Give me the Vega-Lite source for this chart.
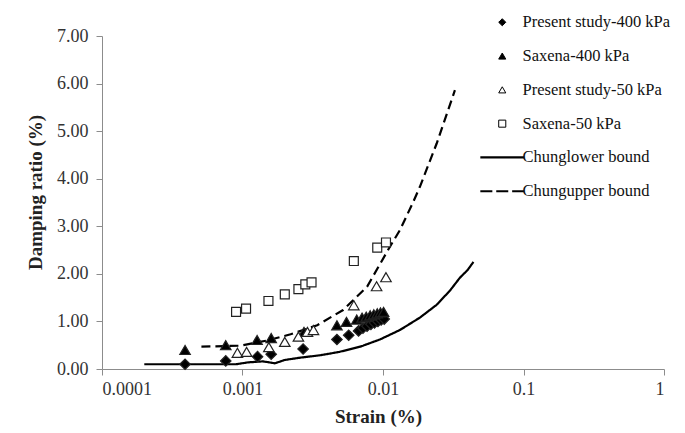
{
  "$schema": "https://vega.github.io/schema/vega-lite/v6.json",
  "width": 562,
  "height": 333,
  "autosize": "none",
  "padding": {"left": 102, "top": 36, "right": 21, "bottom": 64},
  "background": "white",
  "config": {
    "view": {"stroke": null},
    "font": "Liberation Serif",
    "axis": {
      "grid": false,
      "domainColor": "#8c8c8c",
      "tickColor": "#8c8c8c",
      "tickSize": 6,
      "labelFont": "Liberation Serif",
      "labelFontSize": 18,
      "labelColor": "#333333",
      "titleFont": "Liberation Serif",
      "titleFontSize": 19,
      "titleFontWeight": "bold",
      "titleColor": "#222222"
    },
    "legend": {
      "orient": "none",
      "legendX": 392,
      "legendY": -22,
      "symbolSize": 50,
      "symbolStrokeColor": "black",
      "symbolOpacity": 1,
      "labelFont": "Liberation Serif",
      "labelFontSize": 16.5,
      "labelColor": "#111111",
      "labelOffset": 12,
      "rowPadding": 16.8,
      "labelLimit": 300
    }
  },
  "data": {
    "values": [
      {"series": "Present study-400 kPa", "strain": 0.00039, "damping": 0.10},
      {"series": "Present study-400 kPa", "strain": 0.00076, "damping": 0.17},
      {"series": "Present study-400 kPa", "strain": 0.00128, "damping": 0.26},
      {"series": "Present study-400 kPa", "strain": 0.0016, "damping": 0.31},
      {"series": "Present study-400 kPa", "strain": 0.0027, "damping": 0.42},
      {"series": "Present study-400 kPa", "strain": 0.0047, "damping": 0.62},
      {"series": "Present study-400 kPa", "strain": 0.0057, "damping": 0.71},
      {"series": "Present study-400 kPa", "strain": 0.0067, "damping": 0.80},
      {"series": "Present study-400 kPa", "strain": 0.0072, "damping": 0.86},
      {"series": "Present study-400 kPa", "strain": 0.0077, "damping": 0.90},
      {"series": "Present study-400 kPa", "strain": 0.0082, "damping": 0.94},
      {"series": "Present study-400 kPa", "strain": 0.0087, "damping": 0.97},
      {"series": "Present study-400 kPa", "strain": 0.0092, "damping": 1.00},
      {"series": "Present study-400 kPa", "strain": 0.0097, "damping": 1.03},
      {"series": "Present study-400 kPa", "strain": 0.0102, "damping": 1.05},
      {"series": "Saxena-400 kPa", "strain": 0.00039, "damping": 0.40},
      {"series": "Saxena-400 kPa", "strain": 0.00076, "damping": 0.50},
      {"series": "Saxena-400 kPa", "strain": 0.00127, "damping": 0.61},
      {"series": "Saxena-400 kPa", "strain": 0.0016, "damping": 0.65},
      {"series": "Saxena-400 kPa", "strain": 0.00274, "damping": 0.78},
      {"series": "Saxena-400 kPa", "strain": 0.0047, "damping": 0.92},
      {"series": "Saxena-400 kPa", "strain": 0.0055, "damping": 0.99},
      {"series": "Saxena-400 kPa", "strain": 0.0065, "damping": 1.04},
      {"series": "Saxena-400 kPa", "strain": 0.0071, "damping": 1.08},
      {"series": "Saxena-400 kPa", "strain": 0.0076, "damping": 1.10},
      {"series": "Saxena-400 kPa", "strain": 0.0081, "damping": 1.13},
      {"series": "Saxena-400 kPa", "strain": 0.0086, "damping": 1.15},
      {"series": "Saxena-400 kPa", "strain": 0.0091, "damping": 1.17},
      {"series": "Saxena-400 kPa", "strain": 0.0096, "damping": 1.19},
      {"series": "Saxena-400 kPa", "strain": 0.0101, "damping": 1.20},
      {"series": "Present study-50 kPa", "strain": 0.00092, "damping": 0.34},
      {"series": "Present study-50 kPa", "strain": 0.00107, "damping": 0.36},
      {"series": "Present study-50 kPa", "strain": 0.00154, "damping": 0.46},
      {"series": "Present study-50 kPa", "strain": 0.0020, "damping": 0.57},
      {"series": "Present study-50 kPa", "strain": 0.0025, "damping": 0.68},
      {"series": "Present study-50 kPa", "strain": 0.0029, "damping": 0.78},
      {"series": "Present study-50 kPa", "strain": 0.0032, "damping": 0.82},
      {"series": "Present study-50 kPa", "strain": 0.0062, "damping": 1.34},
      {"series": "Present study-50 kPa", "strain": 0.0090, "damping": 1.74},
      {"series": "Present study-50 kPa", "strain": 0.0105, "damping": 1.93},
      {"series": "Saxena-50 kPa", "strain": 0.0009, "damping": 1.20},
      {"series": "Saxena-50 kPa", "strain": 0.00106, "damping": 1.27},
      {"series": "Saxena-50 kPa", "strain": 0.00153, "damping": 1.43},
      {"series": "Saxena-50 kPa", "strain": 0.0020, "damping": 1.57},
      {"series": "Saxena-50 kPa", "strain": 0.0025, "damping": 1.68},
      {"series": "Saxena-50 kPa", "strain": 0.0028, "damping": 1.78},
      {"series": "Saxena-50 kPa", "strain": 0.0031, "damping": 1.82},
      {"series": "Saxena-50 kPa", "strain": 0.0062, "damping": 2.27},
      {"series": "Saxena-50 kPa", "strain": 0.0091, "damping": 2.55},
      {"series": "Saxena-50 kPa", "strain": 0.0105, "damping": 2.66},
      {"series": "Chunglower bound", "strain": 0.0002, "damping": 0.10},
      {"series": "Chunglower bound", "strain": 0.0009, "damping": 0.10},
      {"series": "Chunglower bound", "strain": 0.0011, "damping": 0.14},
      {"series": "Chunglower bound", "strain": 0.0014, "damping": 0.16},
      {"series": "Chunglower bound", "strain": 0.0017, "damping": 0.12},
      {"series": "Chunglower bound", "strain": 0.0020, "damping": 0.19},
      {"series": "Chunglower bound", "strain": 0.0026, "damping": 0.24},
      {"series": "Chunglower bound", "strain": 0.0036, "damping": 0.29},
      {"series": "Chunglower bound", "strain": 0.0049, "damping": 0.36},
      {"series": "Chunglower bound", "strain": 0.0069, "damping": 0.47},
      {"series": "Chunglower bound", "strain": 0.0095, "damping": 0.62},
      {"series": "Chunglower bound", "strain": 0.0132, "damping": 0.82},
      {"series": "Chunglower bound", "strain": 0.0183, "damping": 1.08},
      {"series": "Chunglower bound", "strain": 0.0241, "damping": 1.35},
      {"series": "Chunglower bound", "strain": 0.0300, "damping": 1.65},
      {"series": "Chunglower bound", "strain": 0.0353, "damping": 1.92},
      {"series": "Chunglower bound", "strain": 0.0400, "damping": 2.08},
      {"series": "Chunglower bound", "strain": 0.0440, "damping": 2.25},
      {"series": "Chungupper bound", "strain": 0.00051, "damping": 0.47},
      {"series": "Chungupper bound", "strain": 0.00096, "damping": 0.49},
      {"series": "Chungupper bound", "strain": 0.0015, "damping": 0.60},
      {"series": "Chungupper bound", "strain": 0.0022, "damping": 0.73},
      {"series": "Chungupper bound", "strain": 0.0034, "damping": 0.92},
      {"series": "Chungupper bound", "strain": 0.0052, "damping": 1.24},
      {"series": "Chungupper bound", "strain": 0.0077, "damping": 1.73},
      {"series": "Chungupper bound", "strain": 0.0112, "damping": 2.57},
      {"series": "Chungupper bound", "strain": 0.0132, "damping": 2.92},
      {"series": "Chungupper bound", "strain": 0.0164, "damping": 3.51},
      {"series": "Chungupper bound", "strain": 0.0183, "damping": 3.83},
      {"series": "Chungupper bound", "strain": 0.0241, "damping": 4.74},
      {"series": "Chungupper bound", "strain": 0.0325, "damping": 5.86}
    ]
  },
  "encoding": {
    "x": {
      "field": "strain", "type": "quantitative",
      "scale": {"type": "log", "domain": [0.0001, 1], "nice": false},
      "axis": {"values": [0.0001, 0.001, 0.01, 0.1, 1], "format": "~g", "title": "Strain (%)", "labelPadding": 5, "titlePadding": 9, "titleX": 276}
    },
    "y": {
      "field": "damping", "type": "quantitative",
      "scale": {"domain": [0, 7], "nice": false, "zero": true},
      "axis": {"values": [0, 1, 2, 3, 4, 5, 6, 7], "format": ".2f", "title": "Damping ratio (%)", "labelPadding": 8, "titlePadding": 11, "titleY": 156}
    }
  },
  "layer": [
    {
      "transform": [{"filter": "indexof(['Chunglower bound','Chungupper bound'], datum.series) >= 0"}],
      "mark": {"type": "line", "color": "black", "strokeWidth": 2.2},
      "encoding": {
        "order": {"field": "strain", "type": "quantitative"},
        "strokeDash": {
          "field": "series", "type": "nominal",
          "scale": {"domain": ["Chunglower bound", "Chungupper bound"], "range": [[1, 0], [9, 5]]},
          "legend": null
        }
      }
    },
    {
      "transform": [{"filter": "indexof(['Chunglower bound','Chungupper bound'], datum.series) < 0"}],
      "mark": {"type": "point", "opacity": 1, "fillOpacity": 1, "strokeWidth": 1.2, "stroke": "#222222"},
      "encoding": {
        "size": {"condition": {"test": "datum.series === 'Saxena-50 kPa'", "value": 80}, "value": 110},
        "shape": {
          "field": "series", "type": "nominal",
          "scale": {
            "domain": ["Present study-400 kPa", "Saxena-400 kPa", "Present study-50 kPa", "Saxena-50 kPa", "Chunglower bound", "Chungupper bound"],
            "range": ["diamond", "triangle-up", "triangle-up", "square", "M-6.2,0H6.2", "M-6.2,0H-2.8M-1.7,0H1.7M2.8,0H6.2"]
          },
          "legend": {
            "title": null,
            "encode": {"symbols": {"update": {"stroke": {"value": "black"}, "strokeWidth": {"signal": "datum.value === 'Chunglower bound' || datum.value === 'Chungupper bound' ? 2.2 : 1"}}}}
          }
        },
        "fill": {
          "field": "series", "type": "nominal",
          "scale": {
            "domain": ["Present study-400 kPa", "Saxena-400 kPa", "Present study-50 kPa", "Saxena-50 kPa", "Chunglower bound", "Chungupper bound"],
            "range": ["black", "black", "white", "white", "white", "white"]
          },
          "legend": {
            "title": null,
            "encode": {"symbols": {"update": {"stroke": {"value": "black"}, "strokeWidth": {"signal": "datum.value === 'Chunglower bound' || datum.value === 'Chungupper bound' ? 2.2 : 1"}}}}
          }
        }
      }
    }
  ]
}
